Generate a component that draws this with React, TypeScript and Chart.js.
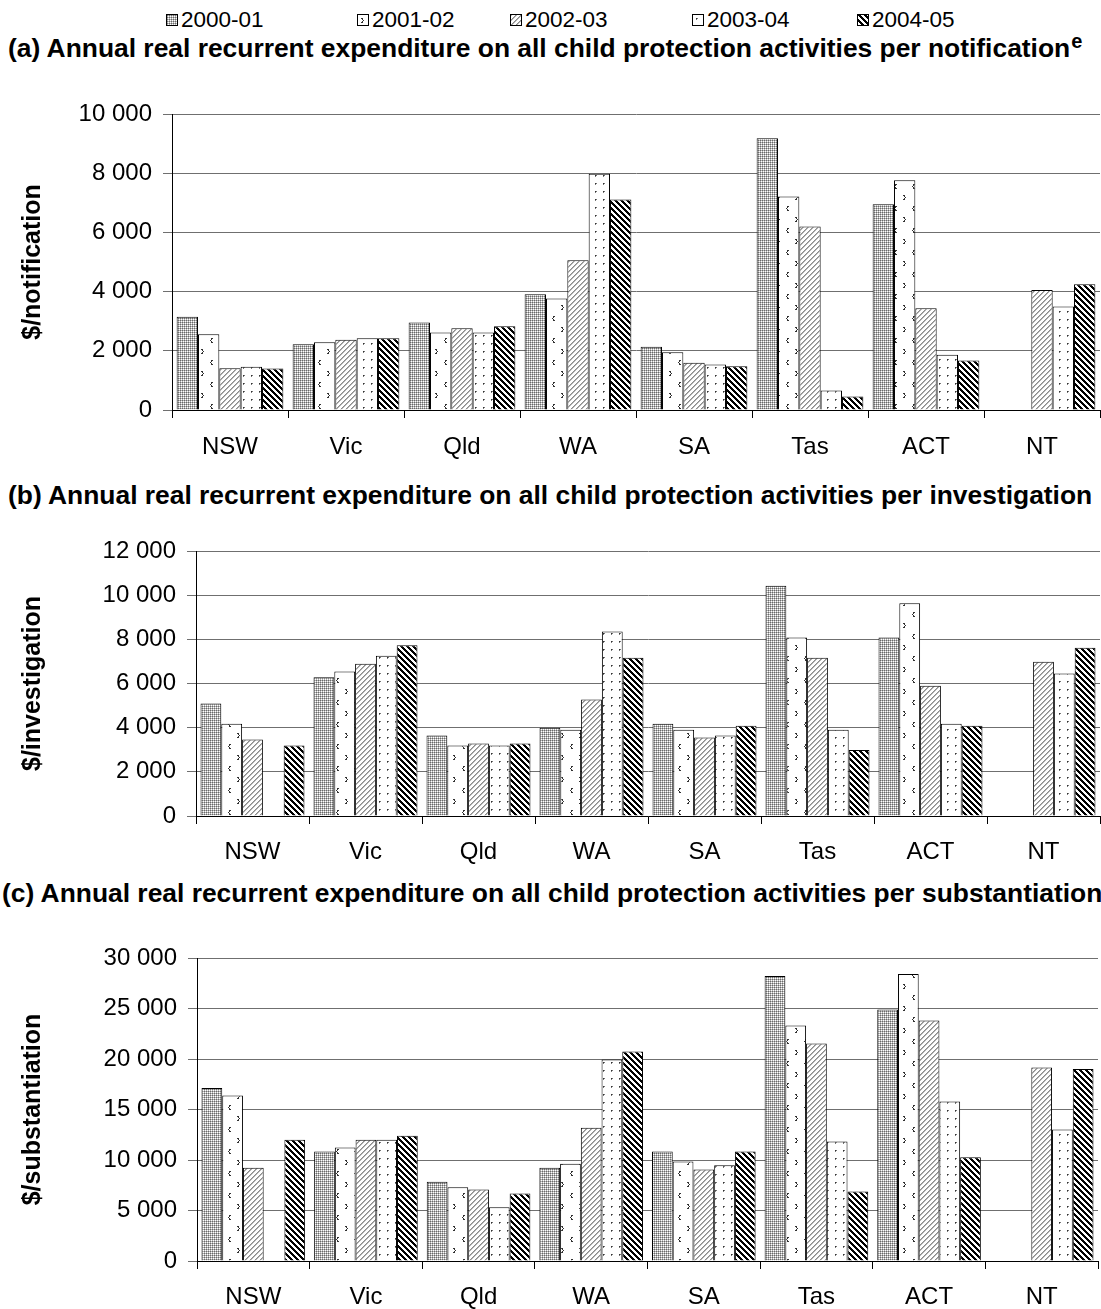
import React, { useEffect, useMemo, useRef } from 'react';
import { Chart, registerables } from 'chart.js';

Chart.register(...registerables);

const FONT = 'Arial, "Liberation Sans", sans-serif';

const categories = ['NSW', 'Vic', 'Qld', 'WA', 'SA', 'Tas', 'ACT', 'NT'];
const years = ['2000-01', '2001-02', '2002-03', '2003-04', '2004-05'];

// (a) per notification
const notif2000 = [3150, 2220, 2960, 3910, 2140, 9180, 6950, null];
const notif2001 = [2560, 2290, 2620, 3770, 1950, 7210, 7760, null];
const notif2002 = [1410, 2370, 2760, 5060, 1600, 6200, 3440, 4050];
const notif2003 = [1460, 2420, 2620, 7980, 1540, 660, 1870, 3500];
const notif2004 = [1400, 2420, 2830, 7110, 1480, 460, 1670, 4250];

// (b) per investigation
const invest2000 = [5090, 6280, 3640, 4000, 4180, 10430, 8080, null];
const invest2001 = [4180, 6540, 3190, 3910, 3910, 8080, 9630, null];
const invest2002 = [3460, 6900, 3280, 5270, 3550, 7170, 5900, 6990];
const invest2003 = [null, 7260, 3190, 8350, 3640, 3910, 4180, 6450];
const invest2004 = [3190, 7730, 3280, 7170, 4090, 2990, 4090, 7620];

// (c) per substantiation
const subst2000 = [17140, 10850, 7850, 9230, 10850, 28220, 24890, null];
const subst2001 = [16390, 11250, 7290, 9630, 9860, 23310, 28420, null];
const subst2002 = [9230, 12000, 7090, 13190, 9070, 21530, 23800, 19160];
const subst2003 = [null, 12000, 5310, 19950, 9470, 11840, 15790, 13030];
const subst2004 = [12000, 12400, 6690, 20740, 10850, 6890, 10260, 19000];

const yTitles = ['$/notification', '$/investigation', '$/substantiation'];
const yMaxes = [10000, 12000, 30000];
const ySteps = [2000, 2000, 5000];
const panelTitles = [
  '(a) Annual real recurrent expenditure on all child protection activities per notification',
  '(b) Annual real recurrent expenditure on all child protection activities per investigation',
  '(c) Annual real recurrent expenditure on all child protection activities per substantiation',
];

const fmt = (v: number) => String(v).replace(/\B(?=(\d{3})+(?!\d))/g, ' ');

function makeTile(kind: number): HTMLCanvasElement {
  const c = document.createElement('canvas');
  const ctx = c.getContext('2d')!;
  const px = (x: number, y: number, col: string) => {
    ctx.fillStyle = col;
    ctx.fillRect(x, y, 1, 1);
  };
  if (kind === 0) {
    c.width = 4; c.height = 4;
    ctx.fillStyle = '#ffffff'; ctx.fillRect(0, 0, 4, 4);
    const D = '#6a6a6a', G = '#b4b4b4', W = '#ffffff';
    const grid = [
      [D, G, D, G],
      [G, W, G, W],
      [D, G, D, G],
      [G, W, G, W],
    ];
    for (let y = 0; y < 4; y++) for (let x = 0; x < 4; x++) px(x, y, grid[y][x]);
  } else if (kind === 1) {
    c.width = 18; c.height = 22;
    ctx.fillStyle = '#ffffff'; ctx.fillRect(0, 0, 18, 22);
    const col = '#333333';
    // ">" mark
    px(3, 3, col); px(4, 3, col); px(4, 4, col); px(5, 5, col); px(4, 6, col); px(3, 7, col); px(4, 7, col);
    // "<" mark
    px(13, 14, col); px(14, 14, col); px(13, 15, col); px(12, 16, col); px(13, 17, col); px(13, 18, col); px(14, 18, col);
  } else if (kind === 2) {
    const n = 5;
    c.width = n; c.height = n;
    ctx.fillStyle = '#ffffff'; ctx.fillRect(0, 0, n, n);
    for (let y = 0; y < n; y++) {
      const x = (n - 1 - y + n) % n;
      px(x, y, '#8c8c8c');
      px((x + 1) % n, y, '#b4b4b4');
    }
  } else if (kind === 3) {
    c.width = 8; c.height = 8;
    ctx.fillStyle = '#ffffff'; ctx.fillRect(0, 0, 8, 8);
    px(3, 3, '#333333'); px(4, 3, '#777777'); px(3, 4, '#777777');
  } else {
    const n = 6;
    c.width = n; c.height = n;
    ctx.fillStyle = '#ffffff'; ctx.fillRect(0, 0, n, n);
    for (let y = 0; y < n; y++) {
      px(y % n, y, '#000000');
      px((y + 1) % n, y, '#000000');
      px((y + 2) % n, y, '#000000');
    }
  }
  return c;
}

type Geom = { top: number; height: number; padTop: number; padRight: number; xH: number; yW: number; xPad: number };

const geoms: Geom[] = [
  { top: 60, height: 420, padTop: 54, padRight: 1, xH: 70, yW: 172, xPad: 15 },
  { top: 510, height: 380, padTop: 41, padRight: 1, xH: 74, yW: 196, xPad: 14 },
  { top: 915, height: 394, padTop: 43, padRight: 3, xH: 48, yW: 197, xPad: 14 },
];

function Panel({ idx, series, tiles }: { idx: number; series: (number | null)[][]; tiles: HTMLCanvasElement[] }) {
  const ref = useRef<HTMLCanvasElement | null>(null);
  const g = geoms[idx];
  useEffect(() => {
    const canvas = ref.current!;
    const ctx = canvas.getContext('2d')!;
    const patterns = tiles.map((t) => ctx.createPattern(t, 'repeat')!);
    const chart = new Chart(canvas, {
      type: 'bar',
      data: {
        labels: categories,
        datasets: series.map((d, i) => ({
          label: years[i],
          data: d,
          backgroundColor: patterns[i] as any,
          borderColor: '#000000',
          borderWidth: 1,
          categoryPercentage: 0.92,
          barPercentage: 1,
        })),
      },
      options: {
        responsive: false,
        animation: false,
        events: [],
        layout: { padding: { top: g.padTop, right: g.padRight, left: 0, bottom: 0 } },
        plugins: { legend: { display: false }, tooltip: { enabled: false } },
        scales: {
          x: {
            grid: { offset: true, drawOnChartArea: false, drawTicks: true, tickLength: 8, color: '#000000' },
            border: { color: '#000000' },
            ticks: { font: { family: FONT, size: 24 }, color: '#000000', padding: g.xPad, maxRotation: 0, autoSkip: false },
            afterFit: (s: any) => { s.height = g.xH; },
          },
          y: {
            min: 0,
            max: yMaxes[idx],
            ticks: {
              stepSize: ySteps[idx],
              callback: (v: any) => fmt(Number(v)),
              font: { family: FONT, size: 24 },
              color: '#000000',
              padding: 11,
            },
            grid: { color: '#6f6f6f', tickLength: 9, drawTicks: true },
            border: { color: '#000000' },
            title: {
              display: true,
              text: yTitles[idx],
              font: { family: FONT, size: 25, weight: 'bold' },
              color: '#000000',
              padding: { top: 18, bottom: 0 },
            },
            afterFit: (s: any) => { s.width = g.yW; },
          },
        },
      } as any,
    });
    return () => chart.destroy();
  }, []);
  return (
    <canvas
      ref={ref}
      width={1101}
      height={g.height}
      style={{ position: 'absolute', left: 0, top: g.top, width: 1101, height: g.height }}
    />
  );
}

const legendX = [166, 357, 510, 692, 857];
const titleTops = [35, 482, 880];
const titleLefts = [8, 8, 2];

export default function App() {
  const tiles = useMemo(() => [0, 1, 2, 3, 4].map((k) => makeTile(k)), []);
  const urls = useMemo(() => tiles.map((t) => t.toDataURL()), [tiles]);
  const panels = [
    [notif2000, notif2001, notif2002, notif2003, notif2004],
    [invest2000, invest2001, invest2002, invest2003, invest2004],
    [subst2000, subst2001, subst2002, subst2003, subst2004],
  ];
  return (
    <div style={{ position: 'absolute', left: 0, top: 0, width: 1101, height: 1309, overflow: 'hidden', background: '#fff', fontFamily: FONT, color: '#000' }}>
      {years.map((y, i) => (
        <div key={y} style={{ position: 'absolute', left: legendX[i], top: 9, height: 22, display: 'flex', alignItems: 'center', whiteSpace: 'nowrap' }}>
          <div style={{ width: 10, height: 10, border: '1px solid #000', backgroundImage: `url(${urls[i]})`, marginRight: 3 }} />
          <span style={{ fontSize: 22.5, lineHeight: '22px' }}>{y}</span>
        </div>
      ))}
      {panelTitles.map((t, i) => (
        <div key={i} style={{ position: 'absolute', left: titleLefts[i], top: titleTops[i], fontSize: 26.4, lineHeight: '26px', fontWeight: 'bold', whiteSpace: 'nowrap' }}>
          {t}
          {i === 0 ? <span style={{ fontSize: 20, position: 'relative', top: -9, marginLeft: 1 }}>e</span> : null}
        </div>
      ))}
      {panels.map((s, i) => (
        <Panel key={i} idx={i} series={s} tiles={tiles} />
      ))}
    </div>
  );
}
